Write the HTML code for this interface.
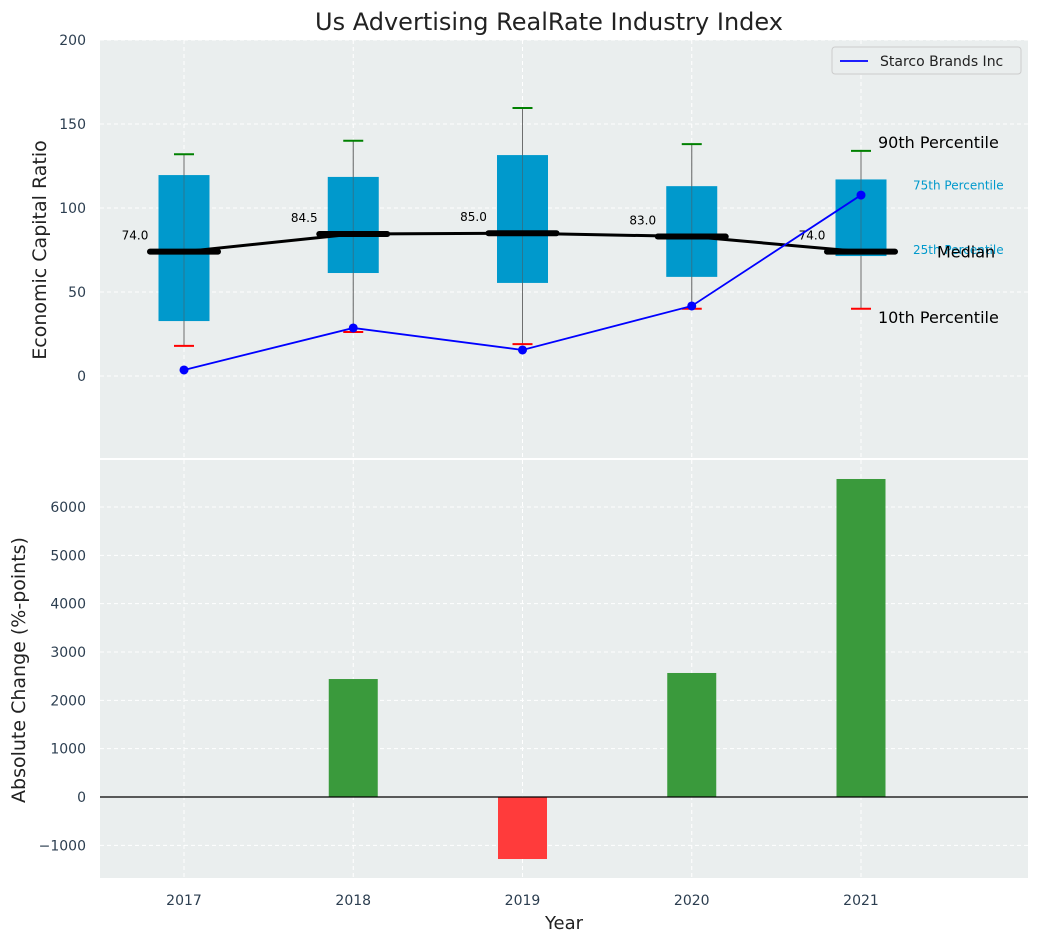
<!DOCTYPE html>
<html><head><meta charset="utf-8"><style>
body{margin:0;background:#fff;font-family:"Liberation Sans","DejaVu Sans",sans-serif}
svg text{font-family:"DejaVu Sans","Liberation Sans",sans-serif}
</style></head><body>
<svg id="chart" width="1039" height="942" xmlns="http://www.w3.org/2000/svg"></svg>
<script>
const years=[2017,2018,2019,2020,2021];
const p10=[17.9,26.2,19,40,40];
const q1=[32.7,61.3,55.4,59,71.4];
const median=[74,84.5,85,83,74];
const q3=[119.6,118.5,131.5,113,117];
const p90=[132,140,159.5,138,134];
const company=[3.6,28.6,15.5,41.7,107.7];
const changes=[0,2441,-1283,2566,6580];
const topTicks=[0,50,100,150,200];
const botTicks=[-1000,0,1000,2000,3000,4000,5000,6000];

const NS="http://www.w3.org/2000/svg";
const svg=document.getElementById('chart');
function el(t,a,txt){const e=document.createElementNS(NS,t);for(const k in a)e.setAttribute(k,a[k]);if(txt!==undefined)e.textContent=txt;svg.appendChild(e);return e;}
const X=v=>184+(v-2017)*169.25;
const Y1=v=>376-v*1.68;
const Y2=v=>797-v*0.04833;
const L=100,R=1028;

let p=el('rect',{x:L,y:40,width:R-L,height:418,fill:'#eaeeee'});


p=el('rect',{x:L,y:460,width:R-L,height:418,fill:'#eaeeee'});



years.forEach(y=>{
 el('line',{x1:X(y),x2:X(y),y1:40,y2:458,stroke:'#fff','stroke-dasharray':'4,3'});
 el('line',{x1:X(y),x2:X(y),y1:460,y2:878,stroke:'#fff','stroke-dasharray':'4,3'});
 const t=el('text',{x:X(y),y:905,'text-anchor':'middle','font-size':14,fill:'#2c3e50'},y);
 
 
});
topTicks.forEach(v=>{
 el('line',{x1:L,x2:R,y1:Y1(v),y2:Y1(v),stroke:'#fff','stroke-dasharray':'4,3'});
 const t=el('text',{x:86,y:Y1(v)+5,'text-anchor':'end','font-size':14,fill:'#2c3e50'},v);
 
 
});
botTicks.forEach(v=>{
 el('line',{x1:L,x2:R,y1:Y2(v),y2:Y2(v),stroke:'#fff','stroke-dasharray':'4,3'});
 const t=el('text',{x:86,y:Y2(v)+5,'text-anchor':'end','font-size':14,fill:'#2c3e50'},v<0?'\u2212'+Math.abs(v):v);
 
 
});

years.forEach((y,i)=>{
 const x=X(y);
 const w=el('line',{x1:x,x2:x,y1:Y1(p10[i]),y2:Y1(p90[i]),stroke:'#888','stroke-width':1});
 
 
 const b=el('rect',{x:x-25.5,y:Y1(q3[i]),width:51,height:Y1(q1[i])-Y1(q3[i]),fill:'#0099cc'});
 
 
 el('line',{x1:x,x2:x,y1:Y1(p10[i]),y2:Y1(p90[i]),stroke:'#555','stroke-width':1,opacity:0.5});
 const c1=el('line',{x1:x-10,x2:x+10,y1:Y1(p90[i]),y2:Y1(p90[i]),stroke:'green','stroke-width':2});
 
 
 const c2=el('line',{x1:x-10,x2:x+10,y1:Y1(p10[i]),y2:Y1(p10[i]),stroke:'red','stroke-width':2});
 
 
});
const ml=el('polyline',{points:years.map((y,i)=>X(y)+','+Y1(median[i])).join(' '),fill:'none',stroke:'#000','stroke-width':3});


years.forEach((y,i)=>{
 const m=el('line',{x1:X(y)-34,x2:X(y)+34,y1:Y1(median[i]),y2:Y1(median[i]),stroke:'#000','stroke-width':6,'stroke-linecap':'round'});
 
 
 const t=el('text',{x:X(y)-49,y:Y1(median[i])-12,'text-anchor':'middle','font-size':12,fill:'#000'},median[i].toFixed(1));
 
 
});
const cl=el('polyline',{points:years.map((y,i)=>X(y)+','+Y1(company[i])).join(' '),fill:'none',stroke:'blue','stroke-width':1.8});


years.forEach((y,i)=>{
 const c=el('circle',{cx:X(y),cy:Y1(company[i]),r:4.5,fill:'blue'});
 
 
});
const last=4,lx=X(years[last]);
[['90th Percentile',lx+17,Y1(p90[last])-3,16,'#000'],['75th Percentile',lx+52,Y1(q3[last])+10,12,'#0099cc'],
 ['25th Percentile',lx+52,Y1(q1[last])-2,12,'#0099cc'],['Median',lx+76,Y1(median[last])+6,16,'#000'],
 ['10th Percentile',lx+17,Y1(p10[last])+14,16,'#000']].forEach(a=>{
 const t=el('text',{x:a[1],y:a[2],'font-size':a[3],fill:a[4]},a[0]);
 
 
});
const lg=el('rect',{x:832,y:47,width:189,height:27,fill:'#eaeeee',stroke:'#ccc',rx:3});


el('line',{x1:840,x2:868,y1:61,y2:61,stroke:'blue','stroke-width':1.8});
const lt=el('text',{x:880,y:66,'font-size':14,fill:'#222'},'Starco Brands Inc');



years.forEach((y,i)=>{
 const v=changes[i];
 const b=el('rect',{x:X(y)-24.5,y:Math.min(Y2(v),Y2(0)),width:49,height:Math.abs(Y2(v)-Y2(0)),fill:v>=0?'#3a9a3c':'#ff3b3b'});
 
 
});
el('line',{x1:L,x2:R,y1:Y2(0),y2:Y2(0),stroke:'#000','stroke-width':1.2});

let t=el('text',{x:549,y:30,'text-anchor':'middle','font-size':24,fill:'#222'},'Us Advertising RealRate Industry Index');


t=el('text',{x:46,y:250,'text-anchor':'middle','font-size':19,fill:'#222',transform:'rotate(-90 46 250)'},'Economic Capital Ratio');


t=el('text',{x:25,y:670,'text-anchor':'middle','font-size':19,fill:'#222',transform:'rotate(-90 25 670)'},'Absolute Change (%-points)');


t=el('text',{x:564,y:929,'text-anchor':'middle','font-size':18,fill:'#222'},'Year');


</script>
</body></html>
